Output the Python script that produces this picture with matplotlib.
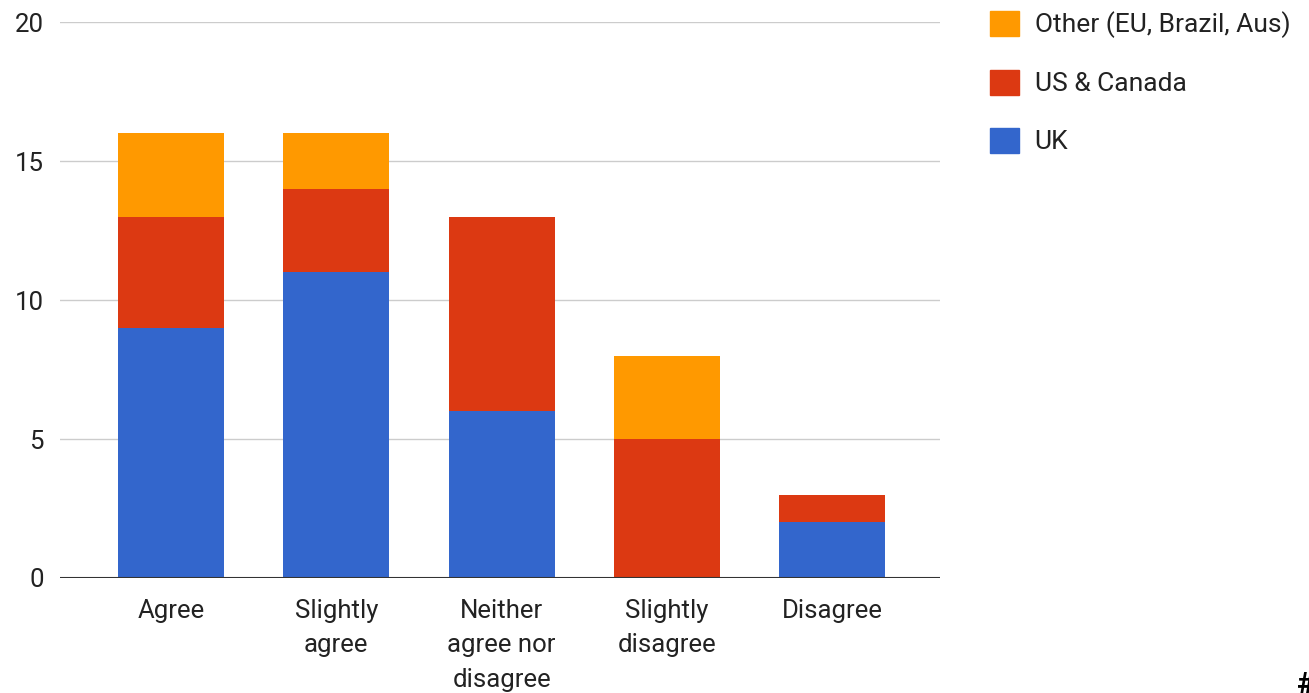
import numpy as np
import matplotlib.pyplot as plt
from matplotlib.patches import Patch

plt.rcParams['font.family'] = ['Roboto', 'DejaVu Sans']

# survey answers
categories = ["Agree", "Slightly\nagree", "Neither\nagree nor\ndisagree", "Slightly\ndisagree", "Disagree"]
uk = [9, 11, 6, 0, 2]
us_canada = [4, 3, 7, 5, 1]
other = [3, 2, 0, 3, 0]
series_names = ["UK", "US & Canada", "Other (EU, Brazil, Aus)"]
yticks = [0, 5, 10, 15, 20]

colors = ["#3366CC", "#DC3912", "#FF9900"]

fig = plt.figure(figsize=(13.09, 6.93), dpi=100)
ax = fig.add_axes([0.046, 0.166, 0.672, 0.802])

x = np.arange(len(categories))
w = 0.64
uk = np.array(uk)
us_canada = np.array(us_canada)
other = np.array(other)

ax.bar(x, uk, w, color=colors[0], zorder=3)
ax.bar(x, us_canada, w, bottom=uk, color=colors[1], zorder=3)
ax.bar(x, other, w, bottom=uk + us_canada, color=colors[2], zorder=3)

ax.set_xlim(-0.67, 4.65)
ax.set_ylim(0, 20)
ax.set_yticks(yticks)
ax.set_xticks(x)
ax.set_xticklabels(categories, fontsize=18.5, color="#222222", linespacing=1.55)
ax.tick_params(axis='y', labelsize=18.5, colors="#222222", length=0, pad=12)
ax.tick_params(axis='x', length=0, pad=15)
ax.grid(axis='y', color="#cccccc", linewidth=1, zorder=0)
for s in ax.spines.values():
    s.set_visible(False)
ax.axhline(0, color="#333333", linewidth=1.5, zorder=4)

handles = [Patch(color=colors[2]), Patch(color=colors[1]), Patch(color=colors[0])]
labels = [series_names[2], series_names[1], series_names[0]]
fig.legend(handles, labels, loc='upper left', bbox_to_anchor=(0.738, 1.019),
           frameon=False, fontsize=19, handlelength=1.1, handleheight=1.1,
           labelspacing=1.19, handletextpad=0.6, labelcolor="#222222")

fig.text(0.991, -0.01, "#", fontsize=22, fontweight='bold', ha='left', va='bottom')

fig.savefig("out.png", dpi=100)
